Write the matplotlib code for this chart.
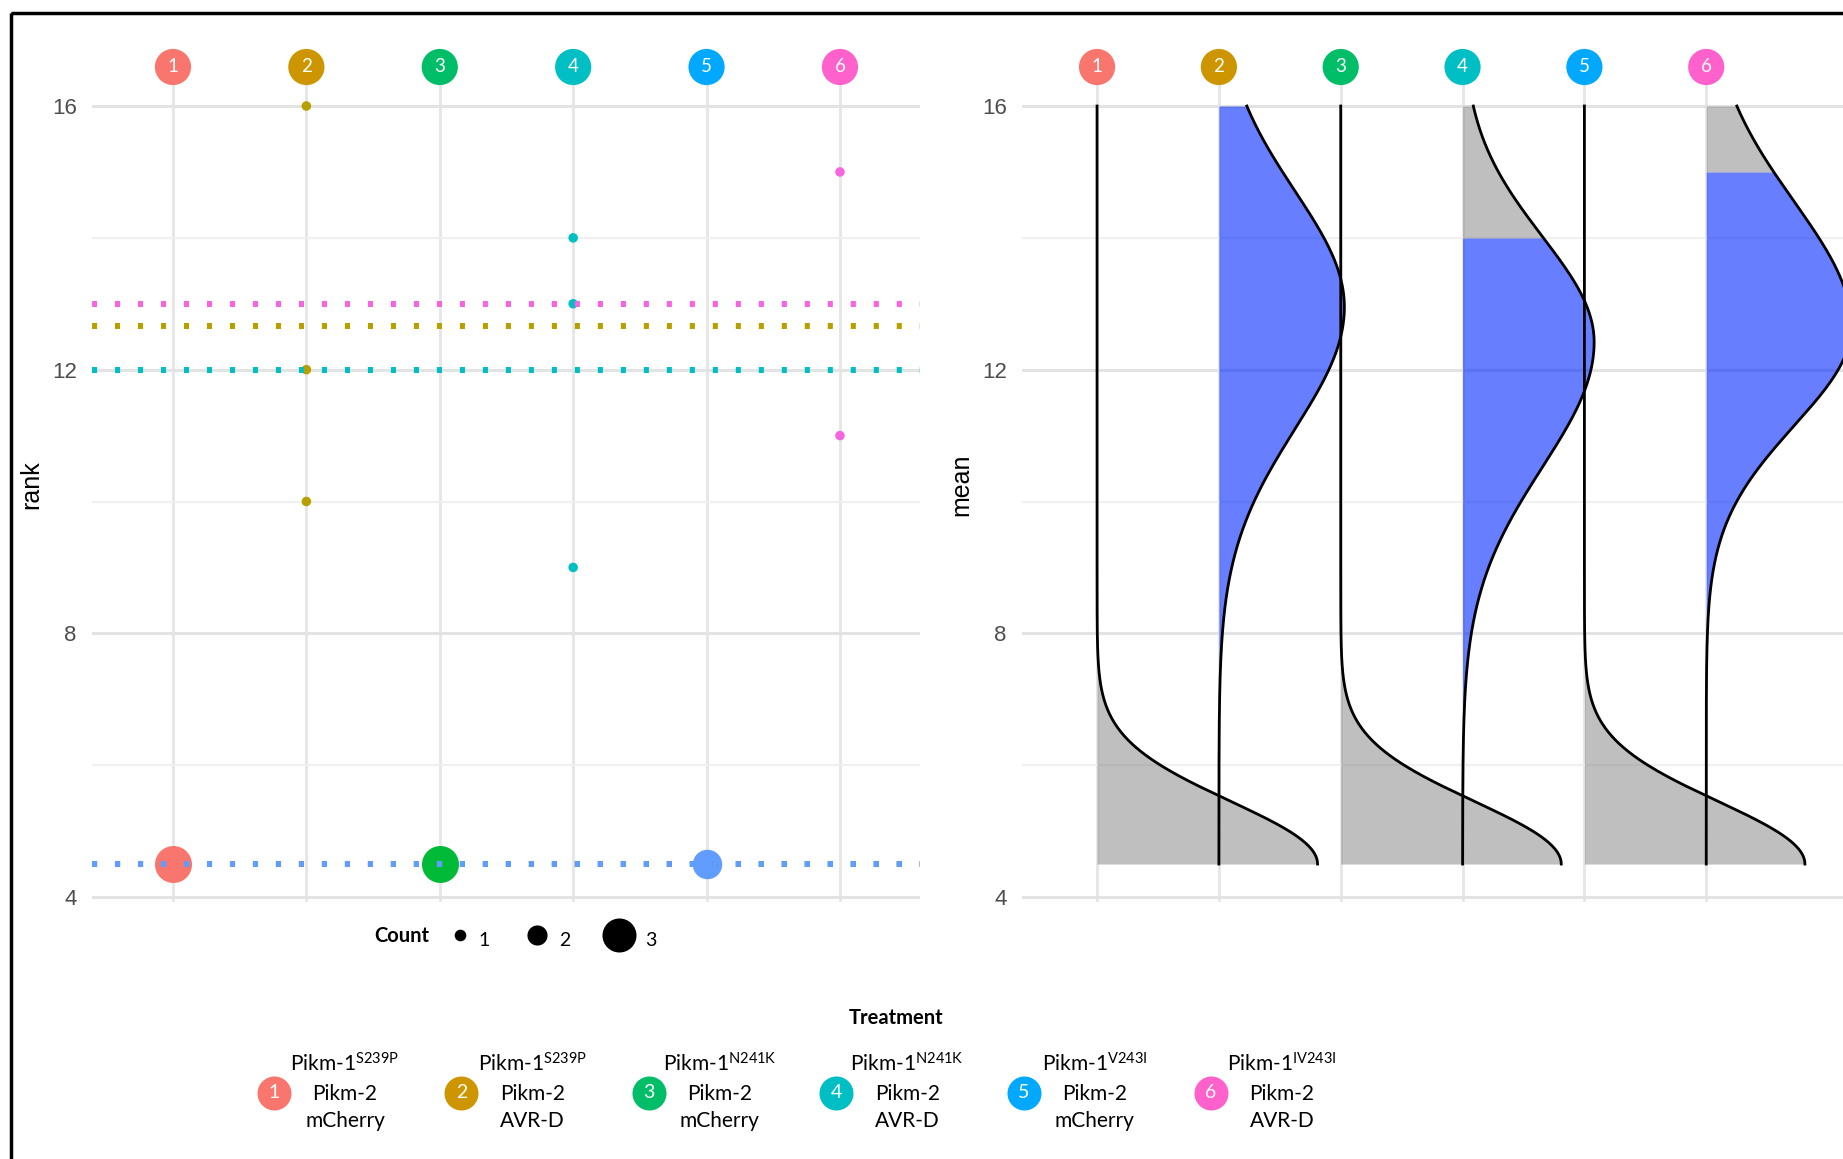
import numpy as np
import matplotlib
matplotlib.use('Agg')
import matplotlib.pyplot as plt
from matplotlib.patches import Rectangle

plt.rcParams['font.family'] = ['Lato', 'DejaVu Sans']
plt.rcParams['mathtext.fontset'] = 'custom'
plt.rcParams['mathtext.rm'] = 'Lato'
plt.rcParams['mathtext.default'] = 'rm'

# observed ranks per treatment (ties at the bottom share rank 4.5)
treatments = [1, 2, 3, 4, 5, 6]
ranks = [
    [4.5, 4.5, 4.5],
    [16, 12, 10],
    [4.5, 4.5, 4.5],
    [14, 13, 9],
    [4.5, 4.5],
    [15, 11],
]
line_pikm1 = ['Pikm-1$^{S239P}$', 'Pikm-1$^{S239P}$', 'Pikm-1$^{N241K}$',
              'Pikm-1$^{N241K}$', 'Pikm-1$^{V243I}$', 'Pikm-1$^{IV243I}$']
line_pikm2 = ['Pikm-2'] * 6
line_effector = ['mCherry', 'AVR-D', 'mCherry', 'AVR-D', 'mCherry', 'AVR-D']

# posterior of the mean rank, one ridge per treatment
ridge_mode = [4.5, 12.95, 4.5, 12.42, 4.5, 12.65]
ridge_sd_below = [0.95, 1.85, 0.95, 1.9, 0.95, 1.5]
ridge_sd_above = [0.95, 1.76, 0.95, 1.6, 0.95, 1.9]
ridge_height = [1.81, 1.03, 1.81, 1.08, 1.81, 1.19]

key_colors = ['#F8766D', '#CD9600', '#00BE67', '#00BFC4', '#00A9FF', '#FF61CC']
point_colors = ['#F8766D', '#B79F00', '#00BA38', '#00BFC4', '#619CFF', '#F564E3']
point_area = {1: 47, 2: 450, 3: 710}
legend_area = {1: 70, 2: 210, 3: 600}

W, H = 1843, 1159
fig = plt.figure(figsize=(W / 100, H / 100), dpi=100)


def px_axes(left, right, top, bottom):
    return fig.add_axes([left / W, 1 - bottom / H, (right - left) / W, (bottom - top) / H])


ylim = (3.924, 16.592)
ax1 = px_axes(92, 920, 67, 902)
ax2 = px_axes(1022, 1850, 67, 902)
ax1.set_xlim(0.393, 6.6)
ax2.set_xlim(0.384, 7.18)

for ax, label in [(ax1, 'rank'), (ax2, 'mean')]:
    ax.set_ylim(*ylim)
    ax.set_yticks([4, 8, 12, 16])
    ax.set_yticklabels(['4', '8', '12', '16'], fontfamily='Liberation Sans')
    ax.set_yticks([6, 10, 14], minor=True)
    ax.set_xticks(treatments)
    ax.set_xticklabels([])
    ax.tick_params(which='both', length=0, labelsize=16, labelcolor='#4D4D4D', pad=11)
    ax.grid(which='major', axis='y', color='#E3E3E3', lw=2.2, zorder=0)
    ax.grid(which='minor', axis='y', color='#F0F0F0', lw=1.5, zorder=0)
    ax.grid(which='major', axis='x', color='#E6E6E6', lw=2.0, zorder=0)
    ax.set_axisbelow(True)
    for s in ax.spines.values():
        s.set_visible(False)
    ax.set_ylabel(label, fontsize=18, fontfamily='Liberation Sans', va='center')
    ax.yaxis.set_label_coords(-61 / 828, 0.5)

    # numbered treatment keys above each column
    ax.scatter(treatments, [ylim[1]] * 6, s=680, color=key_colors, lw=0,
               clip_on=False, zorder=6)
    for t in treatments:
        ax.text(t, ylim[1], str(t), color='white', fontsize=13.5,
                ha='center', va='center', zorder=7)

# left: rank points sized by count, dotted line at each treatment mean
for i, r in enumerate(ranks):
    vals, cnts = np.unique(r, return_counts=True)
    ax1.scatter([treatments[i]] * len(vals), vals, s=[point_area[c] for c in cnts],
                color=point_colors[i], lw=0, zorder=3)
for i, r in enumerate(ranks):
    ax1.axhline(np.mean(r), color=point_colors[i], lw=4.3,
                linestyle=(0, (0.85, 3.0)), dash_capstyle='butt', zorder=4)

# right: half-density ridges, blue up to each treatment's top rank, grey above
all_ranks = np.concatenate([np.asarray(r, float) for r in ranks])
y_lo, y_hi = all_ranks.min(), all_ranks.max()
for i in reversed(range(6)):
    x0 = treatments[i]
    top = max(ranks[i])
    ys = np.union1d(np.linspace(y_lo, y_hi, 800), [top])
    sd = np.where(ys < ridge_mode[i], ridge_sd_below[i], ridge_sd_above[i])
    w = ridge_height[i] * np.exp(-0.5 * ((ys - ridge_mode[i]) / sd) ** 2)
    ax2.fill_betweenx(ys, x0, x0 + w, where=ys <= top, color=(0, 0.16, 1.0, 0.6),
                      lw=0, zorder=2)
    ax2.fill_betweenx(ys, x0, x0 + w, where=ys >= top, color=(0.5, 0.5, 0.5, 0.5),
                      lw=0, zorder=2)
    ax2.plot(x0 + w, ys, color='black', lw=2.0, zorder=3)

# legends and outer frame drawn in pixel coordinates
ov = fig.add_axes([0, 0, 1, 1], zorder=10)
ov.set_xlim(0, W)
ov.set_ylim(H, 0)
ov.axis('off')

ov.text(402, 936, 'Count', fontsize=14.5, fontweight='bold', ha='center', va='center')
count_x = [460, 537, 619]
for k, cx in enumerate(count_x):
    ov.scatter(cx, 935, s=legend_area[k + 1], color='black', lw=0)
    ov.text(cx + 24 + 4 * k, 940, str(k + 1), fontsize=14, ha='center', va='center')

ov.text(896, 1018, 'Treatment', fontsize=14.5, fontweight='bold', ha='center', va='center')
for i, t in enumerate(treatments):
    cx = 274 + i * 187.4
    ov.scatter(cx, 1093, s=600, color=key_colors[i], lw=0)
    ov.text(cx, 1093, str(t), color='white', fontsize=14, ha='center', va='center')
    tx = cx + 71
    ov.text(tx, 1071, line_pikm1[i], fontsize=15, ha='center', va='baseline')
    ov.text(tx, 1100, line_pikm2[i], fontsize=15, ha='center', va='baseline')
    ov.text(tx, 1127, line_effector[i], fontsize=15, ha='center', va='baseline')

ov.add_patch(Rectangle((11, 13), 2000, 1300, fill=False, ec='black', lw=2.5,
                       clip_on=False))

fig.savefig('out.png', dpi=100)
